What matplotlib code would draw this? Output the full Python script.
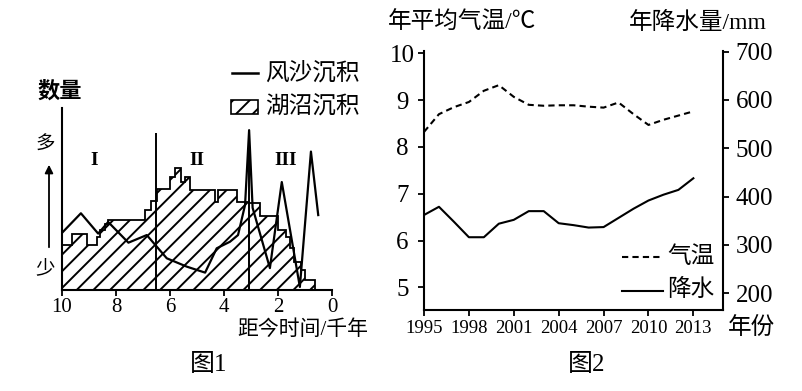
import numpy as np
import matplotlib
matplotlib.use('Agg')
import matplotlib.pyplot as plt
from matplotlib.patches import Rectangle
from matplotlib.lines import Line2D

plt.rcParams['font.family'] = ['Liberation Serif', 'Noto Sans CJK SC']
plt.rcParams['hatch.linewidth'] = 1.4

W, H = 803, 391

# ---- 图1 : deposits vs time (thousand years before present) ----
period_names = ['I', 'II', 'III']
period_pos = [8.8, 5.0, 1.7]
period_bounds = [6.5, 3.07]
bound_tops = [86, 88]

# lake/marsh deposit, step profile (edges in ka, one value per step)
lake_edges = [10, 9.62, 9.09, 8.71, 8.59, 8.4, 8.3, 6.93, 6.7, 6.48, 6.0, 5.81,
              5.59, 5.44, 5.26, 4.33, 4.22, 3.52, 3.07, 2.67, 2.0, 1.7, 1.55,
              1.4, 1.15, 1.0, 0.62]
lake_vals = [24.5, 30.6, 24.5, 28.9, 32.8, 36.1, 38.3, 43.8, 48.8, 55.4, 62,
             66.9, 59.2, 62, 54.8, 48.4, 54.8, 48.4, 47.7, 40.7, 32.8, 29.1,
             22.9, 15.3, 10.7, 5.2]

# aeolian sand deposit line
sand_t = [10, 9.30, 8.66, 8.29, 7.54, 6.86, 6.49, 6.12, 5.38, 4.70, 4.27,
          3.78, 3.48, 3.22, 3.07, 2.94, 2.30, 1.86, 1.19, 0.78, 0.51]
sand_v = [31.2, 42.0, 30.8, 37.2, 25.8, 30.0, 23.6, 17.2, 12.6, 9.3, 22.7,
          26.3, 30.0, 46.6, 87.8, 45.0, 11.8, 59.2, 1.4, 76.0, 41.0]

ka_ticks = [10, 8, 6, 4, 2, 0]

# ---- 图2 : annual temperature and precipitation ----
years = [1995, 1996, 1997, 1998, 1999, 2000, 2001, 2002, 2003, 2004,
         2005, 2006, 2007, 2008, 2009, 2010, 2011, 2012, 2013]
temp = [8.32, 8.70, 8.85, 8.96, 9.20, 9.32, 9.07, 8.90, 8.88, 8.89,
        8.89, 8.86, 8.84, 8.95, 8.70, 8.47, 8.58, 8.67, 8.76]
precip = [362, 379, 348, 316, 316, 344, 352, 370, 370, 345,
          341, 336, 337, 356, 375, 392, 404, 414, 438]

year_ticks = [1995, 1998, 2001, 2004, 2007, 2010, 2013]
temp_ticks = [5, 6, 7, 8, 9, 10]
precip_ticks = [200, 300, 400, 500, 600, 700]


def fx(px):
    return px / W


def fy(py):
    return 1 - py / H


fig = plt.figure(figsize=(W / 100, H / 100), dpi=100)
cjk = dict(weight='medium')

# ===== 图1 =====
ax1 = fig.add_axes([fx(62), fy(289.5), 270 / W, 181.5 / H])

xs = np.repeat(lake_edges, 2)[1:-1]
ys = np.repeat(lake_vals, 2)
xs = np.concatenate([[lake_edges[0]], xs, [lake_edges[-1]]])
ys = np.concatenate([[0], ys, [0]])
ax1.fill(xs, ys, facecolor='white', edgecolor='black', hatch='//', lw=1.3, zorder=2)
ax1.plot(sand_t, sand_v, color='black', lw=1.6, zorder=3)
ax1.vlines(period_bounds, 0, bound_tops, color='black', lw=1.4, zorder=3)

for name, pos in zip(period_names, period_pos):
    ax1.text(pos, 71, name, ha='center', va='center', fontsize=14, weight='bold')

ax1.set_xlim(10, 0)
ax1.set_ylim(0, 100)
ax1.set_xticks(ka_ticks)
ax1.set_xticklabels([str(t) for t in ka_ticks])
ax1.set_yticks([])
for s in ['top', 'right']:
    ax1.spines[s].set_visible(False)
for s in ['left', 'bottom']:
    ax1.spines[s].set_linewidth(1.5)
ax1.tick_params(axis='x', direction='out', length=4, width=1.3, labelsize=15, pad=2)

# y-axis annotations
ax1.annotate('', xy=(fx(49), fy(162)), xytext=(fx(49), fy(250)),
             xycoords='figure fraction', textcoords='figure fraction',
             arrowprops=dict(arrowstyle='-|>', color='black', lw=1.3, mutation_scale=12))
fig.text(fx(45), fy(145), '多', ha='center', va='center', fontsize=14, **cjk)
fig.text(fx(45), fy(268), '少', ha='center', va='center', fontsize=14, **cjk)
fig.text(fx(60), fy(92), '数量', ha='center', va='center', fontsize=16, weight='bold')

# legend
fig.add_artist(Line2D([fx(232), fx(258)], [fy(73), fy(73)], color='black', lw=1.8))
fig.add_artist(Rectangle((fx(231), fy(114)), 27 / W, 14 / H, transform=fig.transFigure,
                         facecolor='white', edgecolor='black', hatch='//', lw=1.2))
fig.text(fx(265), fy(73), '风沙沉积', ha='left', va='center', fontsize=17, **cjk)
fig.text(fx(265), fy(107), '湖沼沉积', ha='left', va='center', fontsize=17, **cjk)

fig.text(fx(303), fy(330), '距今时间/千年', ha='center', va='center', fontsize=15, **cjk)
fig.text(fx(209), fy(365), '图1', ha='center', va='center', fontsize=18, **cjk)

# ===== 图2 =====
ax2 = fig.add_axes([fx(424), fy(310), 299.3 / W, 259 / H])
ax2r = ax2.twinx()

ax2.plot(years, temp, color='black', lw=1.5, ls=(0, (3, 2)))
ax2r.plot(years, precip, color='black', lw=1.5)

ax2.set_xlim(1995, 2015)
ax2.set_ylim(4.515, 10.05)
ax2r.set_ylim(165.4, 701.4)
ax2.set_xticks(year_ticks)
ax2.set_xticklabels([str(y) for y in year_ticks])
ax2.set_yticks(temp_ticks)
ax2.set_yticklabels([str(t) for t in temp_ticks])
ax2r.set_yticks(precip_ticks)
ax2r.set_yticklabels([str(p) for p in precip_ticks])

ax2.spines['top'].set_visible(False)
ax2.spines['right'].set_visible(False)
ax2r.spines['top'].set_visible(False)
ax2r.spines['left'].set_visible(False)
ax2r.spines['bottom'].set_visible(False)
for s in ['left', 'bottom']:
    ax2.spines[s].set_linewidth(1.5)
ax2r.spines['right'].set_linewidth(1.5)

ax2.tick_params(axis='x', direction='out', length=4, width=1.3, labelsize=13.5, pad=3)
ax2.tick_params(axis='y', direction='out', length=4, width=1.3, labelsize=18, pad=11.5)
plt.setp(ax2.get_yticklabels(), ha='center')
ax2r.tick_params(axis='y', direction='out', length=4, width=1.3, labelsize=18, pad=5)

fig.add_artist(Line2D([fx(622), fx(663)], [fy(257), fy(257)], color='black', lw=1.5,
                      ls=(0, (3, 2))))
fig.add_artist(Line2D([fx(622), fx(663)], [fy(291), fy(291)], color='black', lw=1.5))
fig.text(fx(667), fy(257), '气温', ha='left', va='center', fontsize=17, **cjk)
fig.text(fx(667), fy(290), '降水', ha='left', va='center', fontsize=17, **cjk)

fig.text(fx(462), fy(23), '年平均气温/℃', ha='center', va='center', fontsize=17, **cjk)
fig.text(fx(698), fy(23), '年降水量/mm', ha='center', va='center', fontsize=17, **cjk)
fig.text(fx(752), fy(328), '年份', ha='center', va='center', fontsize=17, **cjk)
fig.text(fx(587), fy(365), '图2', ha='center', va='center', fontsize=18, **cjk)

fig.savefig('out.png', dpi=100)
